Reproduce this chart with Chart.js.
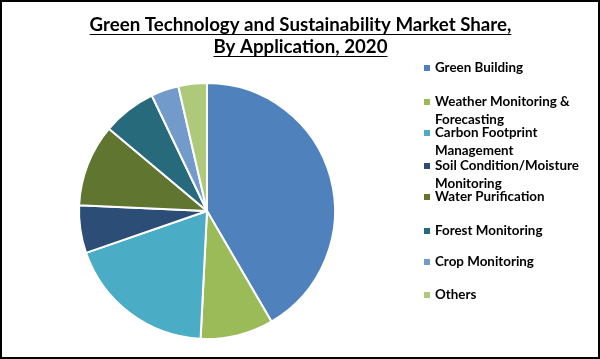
<!DOCTYPE html>
<html>
<head>
<meta charset="utf-8">
<script src="https://cdn.jsdelivr.net/npm/chart.js@4.4.1/dist/chart.umd.min.js"></script>
<style>
  html, body { margin: 0; padding: 0; background: #fff; }
  #wrap { width: 600px; height: 359px; box-sizing: border-box; border: 2px solid #000; }
  canvas { display: block; }
</style>
</head>
<body>
<div id="wrap"><canvas id="pie-chart" width="596" height="355"></canvas></div>
<script>
// Chart data

const titleLines = [
  "Green Technology and Sustainability Market Share,",
  "By Application, 2020",
];

const categories = [
  "Green Building",
  "Weather Monitoring & Forecasting",
  "Carbon Footprint Management",
  "Soil Condition/Moisture Monitoring",
  "Water Purification",
  "Forest Monitoring",
  "Crop Monitoring",
  "Others",
];

const shares = [41.6, 9.2, 18.9, 6.0, 10.4, 6.8, 3.5, 3.6];

const colors = [
  "#4F81BD",
  "#9BBB59",
  "#4BACC6",
  "#2C4D75",
  "#5F7530",
  "#276A7C",
  "#729ACA",
  "#AFC97A",
];

const fontFamily = "Lato, 'Open Sans', sans-serif";

// title + legend drawn by hand (underline and wrapped labels)
const sidePlugin = {
  id: "side",
  afterDraw(chart) {
    const c = chart.ctx;
    c.save();
    c.fillStyle = "#000";
    c.strokeStyle = "#000";
    c.lineWidth = 1;
    c.textAlign = "center";
    c.textBaseline = "alphabetic";
    c.font = "bold 18.7px " + fontFamily;
    titleLines.forEach((t, i) => {
      const y = 29 + i * 22;
      c.fillText(t, 298.5, y);
      const w = c.measureText(t).width;
      c.beginPath();
      c.moveTo(298.5 - w / 2, y + 3.5);
      c.lineTo(298.5 + w / 2, y + 3.5);
      c.stroke();
    });

    c.textAlign = "left";
    c.textBaseline = "middle";
    c.font = "bold 13.4px " + fontFamily;
    const maxW = 155;
    const itemY = [66, 100, 131, 164, 195, 229, 260, 293];
    categories.forEach((label, i) => {
      const words = label.split(" ");
      const lines = [];
      let cur = "";
      words.forEach((w) => {
        const test = cur ? cur + " " + w : w;
        if (cur && c.measureText(test).width > maxW) {
          lines.push(cur);
          cur = w;
        } else {
          cur = test;
        }
      });
      lines.push(cur);
      const y = itemY[i];
      c.fillStyle = colors[i];
      c.fillRect(422, y - 3, 6, 6);
      c.fillStyle = "#000";
      lines.forEach((ln, j) => c.fillText(ln, 433, y + j * 18));
    });
    c.restore();
  },
};

const ctx = document.getElementById("pie-chart");

new Chart(ctx, {
  type: "pie",
  data: {
    labels: categories,
    datasets: [
      {
        data: shares,
        backgroundColor: colors,
        borderColor: "#fff",
        borderWidth: 2,
      },
    ],
  },
  options: {
    responsive: false,
    animation: false,
    layout: {
      padding: { left: 76, top: 80, right: 262, bottom: 17 },
    },
    plugins: {
      legend: { display: false },
      tooltip: { enabled: false },
    },
  },
  plugins: [sidePlugin],
});
</script>
</body>
</html>
